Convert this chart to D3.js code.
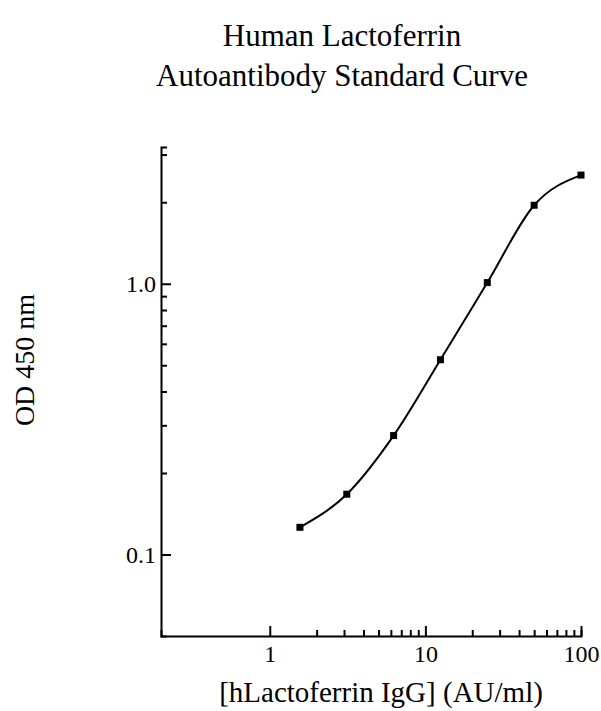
<!DOCTYPE html>
<html>
<head>
<meta charset="utf-8">
<script src="https://cdn.jsdelivr.net/npm/d3@7"></script>
<style>
  body { margin: 0; background: #fff; }
  text { font-family: "Liberation Serif", "Times New Roman", serif; fill: #000; }
</style>
</head>
<body>
<script>
// standard concentrations (AU/ml) and OD readings
const concentrations = [1.5625, 3.125, 6.25, 12.5, 25, 50, 100];
const odValues = [0.126, 0.167, 0.275, 0.524, 1.01, 1.95, 2.52];

const xMajorTicks = [1, 10, 100];
const xMinorTicks = [2, 3, 4, 5, 6, 7, 8, 9, 20, 30, 40, 50, 60, 70, 80, 90];
const yMajorTicks = [0.1, 1];
const yMinorTicks = [0.2, 0.3, 0.4, 0.5, 0.6, 0.7, 0.8, 0.9, 2, 3];
const yTickLabels = {0.1: '0.1', 1: '1.0'};

const titleLines = ['Human Lactoferrin', 'Autoantibody Standard Curve'];
const xLabel = '[hLactoferrin IgG] (AU/ml)';
const yLabel = 'OD 450 nm';

const width = 601, height = 711;
const plotLeft = 161, plotRight = 581, plotTop = 147, plotBottom = 636;

const svg = d3.select('body').append('svg')
  .attr('width', width)
  .attr('height', height);

const x = d3.scaleLog().domain([0.2, 100]).range([plotLeft, plotRight]);
const y = d3.scaleLog().domain([0.05, 3.2]).range([plotBottom, plotTop]);

// x axis
const xAxis = svg.append('g')
  .attr('transform', `translate(0,${plotBottom})`)
  .call(d3.axisBottom(x)
    .tickValues(xMajorTicks.concat(xMinorTicks))
    .tickSizeInner(-6)
    .tickSizeOuter(-6)
    .tickPadding(9)
    .tickFormat(d => xMajorTicks.includes(d) ? d3.format('d')(d) : ''));

xAxis.selectAll('.tick line')
  .attr('y2', d => xMajorTicks.includes(d) ? -10 : -6);

// y axis
const yAxis = svg.append('g')
  .attr('transform', `translate(${plotLeft},0)`)
  .call(d3.axisLeft(y)
    .tickValues(yMajorTicks.concat(yMinorTicks))
    .tickSizeInner(-6)
    .tickSizeOuter(-6)
    .tickPadding(5)
    .tickFormat(d => yTickLabels[d] || ''));

yAxis.selectAll('.tick line')
  .attr('x2', d => yMajorTicks.includes(d) ? 10 : 6);

svg.selectAll('.domain').attr('stroke', '#000').attr('stroke-width', 2);
svg.selectAll('.tick line').attr('stroke', '#000').attr('stroke-width', 2);
svg.selectAll('.tick text')
  .style('font-family', '"Liberation Serif", "Times New Roman", serif')
  .style('font-size', '24px')
  .attr('fill', '#000');

// curve through the standards
const points = concentrations.map((c, i) => ({x: c, y: odValues[i]}));

svg.append('path')
  .datum(points)
  .attr('fill', 'none')
  .attr('stroke', '#000')
  .attr('stroke-width', 2)
  .attr('d', d3.line()
    .x(d => x(d.x))
    .y(d => y(d.y))
    .curve(d3.curveMonotoneX));

svg.selectAll('.pt')
  .data(points)
  .enter()
  .append('rect')
  .attr('class', 'pt')
  .attr('x', d => x(d.x) - 3.5)
  .attr('y', d => y(d.y) - 3.5)
  .attr('width', 7)
  .attr('height', 7)
  .attr('fill', '#000');

// title
svg.append('text')
  .attr('text-anchor', 'middle')
  .style('font-size', '31px')
  .selectAll('tspan')
  .data(titleLines)
  .enter()
  .append('tspan')
  .attr('x', 342)
  .attr('y', (d, i) => 46 + i * 40)
  .text(d => d);

// axis labels
svg.append('text')
  .attr('x', 381)
  .attr('y', 702)
  .attr('text-anchor', 'middle')
  .style('font-size', '29px')
  .text(xLabel);

svg.append('text')
  .attr('transform', 'translate(34,360) rotate(-90)')
  .attr('text-anchor', 'middle')
  .style('font-size', '28px')
  .text(yLabel);
</script>
</body>
</html>
